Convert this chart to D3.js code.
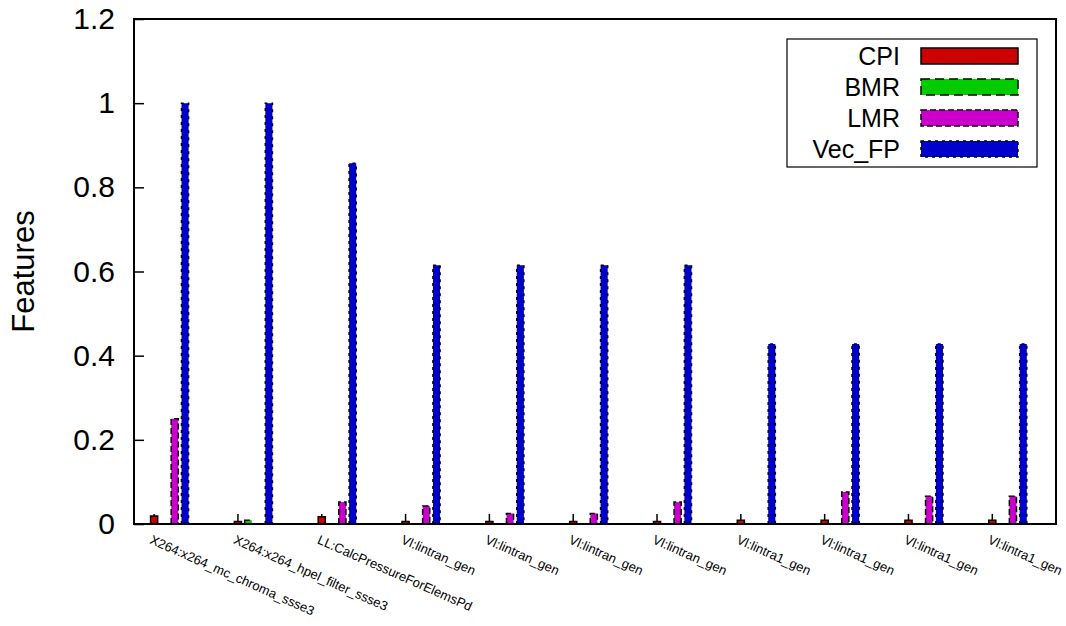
<!DOCTYPE html>
<html>
<head>
<meta charset="utf-8">
<script src="https://cdn.jsdelivr.net/npm/d3@7"></script>
<style>
  html, body { margin: 0; padding: 0; background: #fff; }
  svg { display: block; font-family: "Liberation Sans", Arial, sans-serif; }
</style>
</head>
<body>
<svg id="chart" width="1066" height="626"></svg>
<script>
// Kernel names along the x axis
const categories = [
  "X264:x264_mc_chroma_ssse3",
  "X264:x264_hpel_filter_ssse3",
  "LL:CalcPressureForElemsPd",
  "Vl:lintran_gen",
  "Vl:lintran_gen",
  "Vl:lintran_gen",
  "Vl:lintran_gen",
  "Vl:lintra1_gen",
  "Vl:lintra1_gen",
  "Vl:lintra1_gen",
  "Vl:lintra1_gen"
];

// Normalised feature values per kernel
const cpi    = [0.019, 0.006, 0.017, 0.006, 0.006, 0.006, 0.006, 0.009, 0.009, 0.009, 0.009];
const cpiErr = [0.005, 0.018, 0.007, 0.018, 0.018, 0.018, 0.018, 0.015, 0.015, 0.015, 0.015];
const bmr    = [0.000, 0.009, 0.000, 0.000, 0.000, 0.000, 0.000, 0.000, 0.000, 0.000, 0.000];
const lmr    = [0.250, 0.000, 0.052, 0.043, 0.025, 0.025, 0.052, 0.000, 0.076, 0.066, 0.066];
const vecFP  = [1.000, 1.000, 0.857, 0.615, 0.615, 0.615, 0.615, 0.428, 0.428, 0.428, 0.428];

const seriesNames = ["CPI", "BMR", "LMR", "Vec_FP"];
const yTicks = [0, 0.2, 0.4, 0.6, 0.8, 1, 1.2];

const series = [
  { name: seriesNames[0], values: cpi,   fill: "#cc0000", dash: null },
  { name: seriesNames[1], values: bmr,   fill: "#00cc00", dash: "9,5" },
  { name: seriesNames[2], values: lmr,   fill: "#cc00cc", dash: "6,3" },
  { name: seriesNames[3], values: vecFP, fill: "#0000cc", dash: "3,4" }
];

const svg = d3.select("#chart");
const plot = { left: 134, right: 1056, top: 19, bottom: 524 };

const x = d3.scaleLinear().domain([-0.5, categories.length - 0.5]).range([plot.left, plot.right]);
const y = d3.scaleLinear().domain([0, 1.2]).range([plot.bottom, plot.top]);

// cluster layout, in x-axis units
const barStep = 0.123, barWidth = 0.085, firstOffset = -0.26;

// bars drawn as paths so zero-height values still show their outline
function barPath(cx, v) {
  const x0 = x(cx - barWidth / 2), x1 = x(cx + barWidth / 2);
  const y0 = y(0), y1 = y(v);
  return `M${x0},${y0}L${x0},${y1}L${x1},${y1}L${x1},${y0}Z`;
}

const gBars = svg.append("g");
series.forEach((s, k) => {
  gBars.selectAll(null)
    .data(s.values)
    .join("path")
    .attr("d", (v, i) => barPath(i + firstOffset + k * barStep, v))
    .attr("fill", s.fill)
    .attr("stroke", "#000")
    .attr("stroke-width", 1.5)
    .attr("stroke-dasharray", s.dash);
});

// CPI error bars
gBars.selectAll(null)
  .data(cpi)
  .join("line")
  .attr("x1", (v, i) => x(i + firstOffset))
  .attr("x2", (v, i) => x(i + firstOffset))
  .attr("y1", v => y(v))
  .attr("y2", (v, i) => y(v + cpiErr[i]))
  .attr("stroke", "#000")
  .attr("stroke-width", 1.5);

// Y axis: inward ticks, labels on the left
const yAxis = d3.axisLeft(y).tickValues(yTicks).tickSize(-10).tickPadding(19)
  .tickFormat(d3.format("~g"));
const gy = svg.append("g").attr("transform", `translate(${plot.left},0)`).call(yAxis);
gy.select(".domain").remove();
gy.selectAll(".tick line").attr("stroke", "#000").attr("stroke-width", 1.5);
gy.selectAll(".tick text")
  .attr("font-size", 30)
  .attr("font-family", "Liberation Sans, Arial, sans-serif")
  .attr("fill", "#000");

// Frame around the plot area
svg.append("rect")
  .attr("x", plot.left).attr("y", plot.top)
  .attr("width", plot.right - plot.left).attr("height", plot.bottom - plot.top)
  .attr("fill", "none").attr("stroke", "#000").attr("stroke-width", 2);

// X labels, rotated
svg.append("g").selectAll("text")
  .data(categories)
  .join("text")
  .attr("transform", (d, i) => `translate(${x(i) - 27},543) rotate(24)`)
  .attr("font-size", 13)
  .attr("fill", "#000")
  .text(d => d);

// Y axis title
svg.append("text")
  .attr("transform", `translate(34,${(plot.top + plot.bottom) / 2}) rotate(-90)`)
  .attr("text-anchor", "middle")
  .attr("font-size", 31)
  .attr("fill", "#000")
  .text("Features");

// Legend
const legend = svg.append("g");
legend.append("rect")
  .attr("x", 787).attr("y", 39).attr("width", 250).attr("height", 128)
  .attr("fill", "#fff").attr("stroke", "#000").attr("stroke-width", 1.2);
series.forEach((s, k) => {
  const cy = 56 + k * 31;
  legend.append("text")
    .attr("x", 900).attr("y", cy).attr("dy", "0.36em")
    .attr("text-anchor", "end")
    .attr("font-size", 25)
    .attr("fill", "#000")
    .text(s.name);
  legend.append("rect")
    .attr("x", 921).attr("y", cy - 8).attr("width", 97).attr("height", 16)
    .attr("fill", s.fill)
    .attr("stroke", "#000")
    .attr("stroke-width", 1.5)
    .attr("stroke-dasharray", s.dash);
});
</script>
</body>
</html>
